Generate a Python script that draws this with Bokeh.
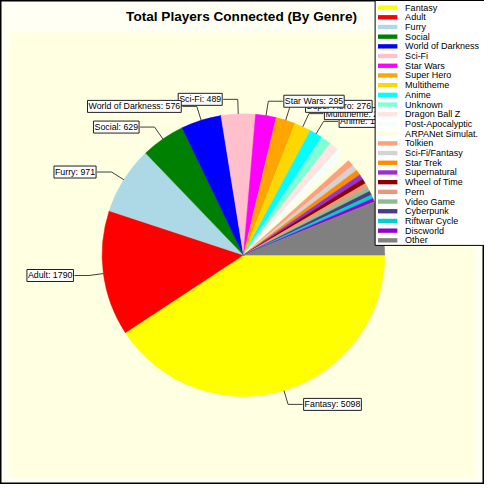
import numpy as np
from bokeh.plotting import figure
from bokeh.models import Range1d, Label, ColumnDataSource
from bokeh.embed import file_html
from bokeh.resources import INLINE
from bokeh.core.properties import value

# ---------------- data ----------------
genres = ["Fantasy", "Adult", "Furry", "Social", "World of Darkness", "Sci-Fi",
          "Star Wars", "Super Hero", "Multitheme", "Anime", "Unknown",
          "Dragon Ball Z", "Post-Apocalyptic", "ARPANet Simulat.", "Tolkien",
          "Sci-Fi/Fantasy", "Star Trek", "Supernatural", "Wheel of Time", "Pern",
          "Video Game", "Cyberpunk", "Riftwar Cycle", "Discworld", "Other"]
players = [5098, 1790, 971, 629, 576, 489, 295, 276, 240, 185, 150,
           135, 115, 100, 92, 88, 78, 74, 70, 66, 60, 57, 54, 50, 771]
colors = ["#FFFF00", "#FF0000", "#ADD8E6", "#008000", "#0000FF", "#FFC0CB",
          "#FF00FF", "#FFA500", "#FFD700", "#00FFFF", "#7FFFD4", "#FFE4E1",
          "#F5FFFA", "#FFFFE0", "#FFA07A", "#D3D3D3", "#FF8C00", "#9932CC",
          "#8B0000", "#E9967A", "#8FBC8F", "#483D8B", "#00CED1", "#9400D3",
          "#808080"]
n_labelled = 10
title_text = "Total Players Connected (By Genre)"

# ---------------- layout (reference pixel space 0..500, y down) ----------------
REF = 500
W = 484
CX, CY_S, R = 251, 263, 146
LEAD_OUT, LEAD_H = 15, 15
FONT = "Liberation Sans"


def Y(ys):
    return REF - np.asarray(ys, dtype=float)


p = figure(width=W, height=W, x_range=Range1d(0, REF), y_range=Range1d(0, REF),
           output_backend="svg", toolbar_location=None, min_border=0,
           x_axis_location=None, y_axis_location=None)
p.grid.visible = False
p.background_fill_color = "#FFFFF3"
p.border_fill_color = "#FFFFF3"
p.outline_line_color = "black"
p.outline_line_width = 2

# inner panel
p.quad(left=9, right=490, top=Y(33), bottom=Y(493), fill_color="#FFFFE2", line_color=None)

# wedges (clockwise from 3 o'clock)
vals = np.array(players, dtype=float)
frac = vals / vals.sum()
ends = np.cumsum(frac) * 2 * np.pi
starts = ends - frac * 2 * np.pi
src = ColumnDataSource(dict(s=-ends, e=-starts, c=colors))
p.wedge(x=CX, y=REF - CY_S, radius=R, start_angle="s", end_angle="e",
        fill_color="c", line_color="c", line_width=0.5, source=src)

# leader lines and labels
mids = (starts + ends) / 2
xs_l, ys_l, labels = [], [], []
for i in range(n_labelled):
    m = mids[i]
    ex, ey = CX + R * np.cos(m), CY_S + R * np.sin(m)
    bx, by = CX + (R + LEAD_OUT) * np.cos(m), CY_S + (R + LEAD_OUT) * np.sin(m)
    right = np.cos(m) >= 0
    tx = bx + LEAD_H if right else bx - LEAD_H
    xs_l.append([ex, bx, tx])
    ys_l.append(list(Y([ey, by, by])))
    labels.append((tx, by, right, f"{genres[i]}: {players[i]}"))
p.multi_line(xs=xs_l, ys=ys_l, line_color="#404040", line_width=1)

for tx, by, right, txt in reversed(labels):
    p.add_layout(Label(x=tx, y=REF - by, text=txt,
                       text_align="left" if right else "right",
                       text_baseline="middle", text_font=FONT,
                       text_font_size="8.8px", text_color="black",
                       x_offset=1 if right else -1,
                       background_fill_color="white",
                       border_line_color="#202020", border_line_width=1,
                       padding=1))

# title
p.add_layout(Label(x=249, y=REF - 17, text=title_text, text_align="center",
                   text_baseline="middle", text_font=FONT, text_font_style="bold",
                   text_font_size="13.6px", text_color="black"))

# legend (drawn on top)
LX0, LX1, LY0, LY1 = 387, 505, 0, 253
p.quad(left=LX0, right=LX1, top=Y(LY0), bottom=Y(LY1), fill_color="white",
       line_color="black", line_width=1, level="overlay")
row_y = 7.3 + 10.02 * np.arange(len(genres))
p.rect(x=400, y=Y(row_y), width=20, height=4.5, fill_color=colors, line_color=None,
       level="overlay")
p.text(x=418, y=Y(row_y), text=genres, text_font=value(FONT), text_font_size="9px",
       text_baseline="middle", text_align="left", text_color="black", level="overlay")

open("out.html", "w").write(file_html(p, INLINE))
